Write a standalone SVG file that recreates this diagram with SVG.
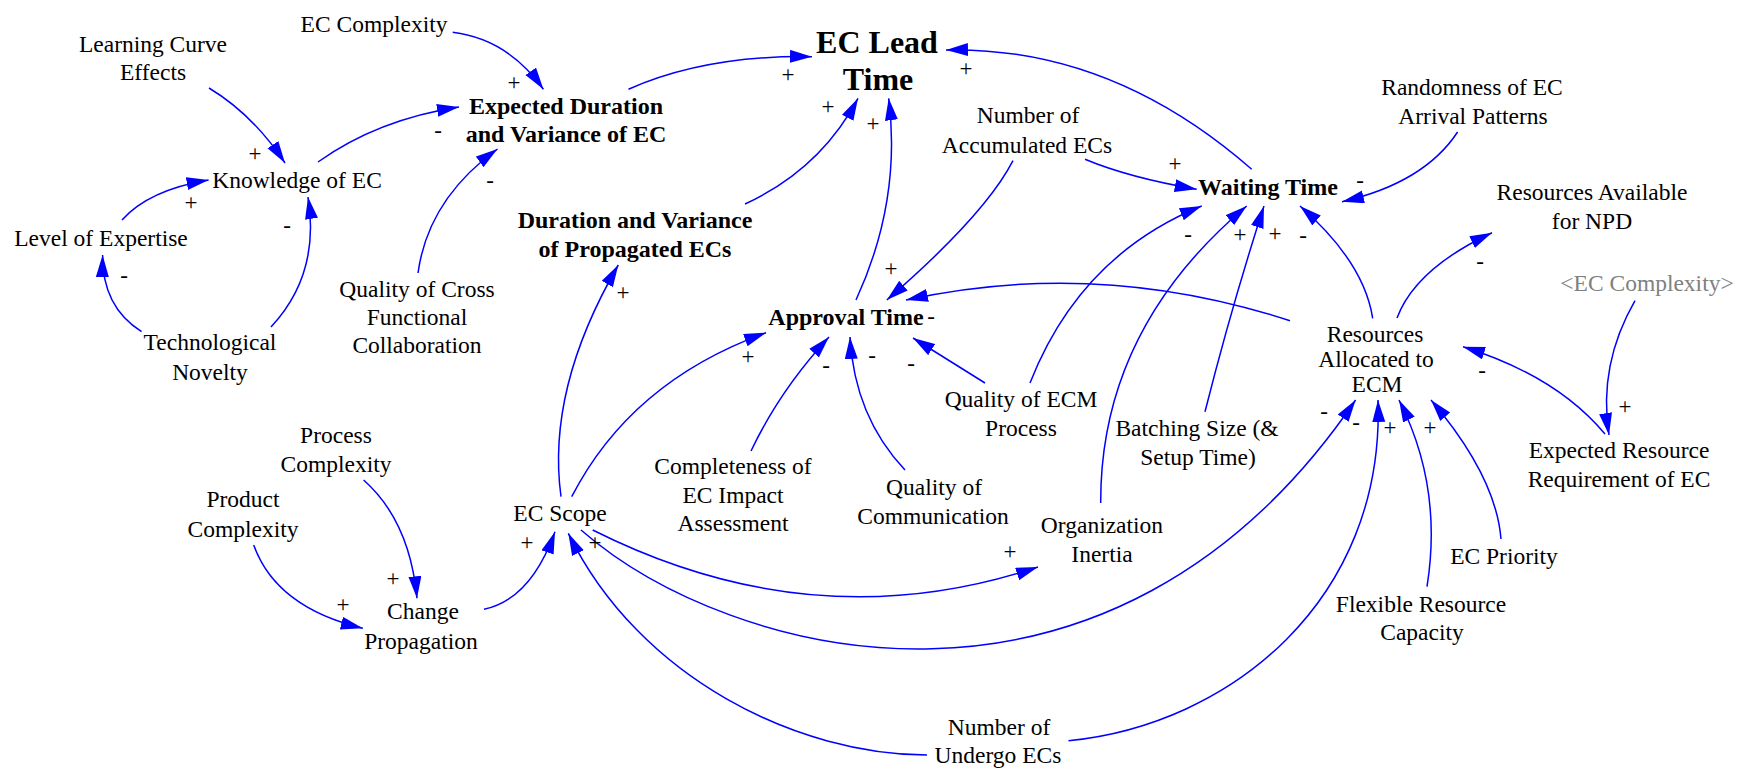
<svg xmlns="http://www.w3.org/2000/svg" width="1747" height="773" viewBox="0 0 1747 773">
  <defs>
    <style>
      text { font-family: "Liberation Serif", "Times New Roman", serif; fill: #000; text-anchor: middle; }
      .var { font-size: 23.5px; }
      .key { font-size: 24px; font-weight: bold; }
      .top { font-size: 32px; font-weight: bold; }
      .shadow { font-size: 23.5px; fill: #808080; }
      .sign { font-size: 23px; }
      .link { fill: none; stroke: #0000ff; stroke-width: 1.5; marker-end: url(#head); }
    </style>
    <marker id="head" markerUnits="userSpaceOnUse" markerWidth="24" markerHeight="14" refX="22" refY="6.5" orient="auto">
      <path d="M0,0 L22,6.5 L0,13 z" fill="#0000ff"/>
    </marker>
  </defs>

  <rect width="1747" height="773" fill="#ffffff"/>

  <!-- causal links -->
  <g id="connectors">
    <path class="link" d="M452.7,32.3 Q508,39.2 543.4,89.3"/>
    <path class="link" d="M209,88 Q253,114.5 285,163"/>
    <path class="link" d="M318,162 Q377.5,119.5 459,107"/>
    <path class="link" d="M122,220 Q148.7,190 208.6,180"/>
    <path class="link" d="M141.6,331.7 Q102,306.6 102.6,255"/>
    <path class="link" d="M271,327 Q320.5,274 308,197"/>
    <path class="link" d="M418,273 Q428.2,199 497.5,149"/>
    <path class="link" d="M628.5,89.3 Q705.7,55 812,56.7"/>
    <path class="link" d="M745,204 Q820.5,169 858,98.3"/>
    <path class="link" d="M856,300 Q901.6,201 888.7,98.3"/>
    <path class="link" d="M1251.7,169.3 Q1111,46.3 946,50"/>
    <path class="link" d="M1013,160.7 Q985,215 886.8,300"/>
    <path class="link" d="M1085,159.3 Q1129,177.7 1196.7,189.3"/>
    <path class="link" d="M1457.6,132 Q1424,183 1342,201.7"/>
    <path class="link" d="M1397,318 Q1415.5,268.6 1492,232.7"/>
    <path class="link" d="M1372.7,318.3 Q1364,262 1300,206"/>
    <path class="link" d="M1290,320.7 Q1098,258 906,300"/>
    <path class="link" d="M1635,300.7 Q1598,365 1609,435"/>
    <path class="link" d="M1605,434 Q1556,375.6 1463,346.7"/>
    <path class="link" d="M985,383 L913,338"/>
    <path class="link" d="M1030,383 Q1080,255.5 1201.7,206"/>
    <path class="link" d="M1100.7,503 Q1100,329.5 1246.7,206"/>
    <path class="link" d="M1205,411.7 Q1232,305 1264,206"/>
    <path class="link" d="M751,451 Q780,390 829,337"/>
    <path class="link" d="M905,470 Q854.5,416.5 850,337"/>
    <path class="link" d="M561,496.7 Q546.3,389.1 618.3,265"/>
    <path class="link" d="M571.7,496.7 Q631.1,381.3 766,332.7"/>
    <path class="link" d="M484,609.3 Q530.5,599.5 555,531.7"/>
    <path class="link" d="M363.6,480 Q409.7,520.8 417,598.3"/>
    <path class="link" d="M253.7,545 Q276,607.3 362.8,628.3"/>
    <path class="link" d="M592.7,530 Q814.6,641.5 1038,567"/>
    <path class="link" d="M581,530 C730,660 1110,760 1355.6,400"/>
    <path class="link" d="M927,755 C800,755 640,680 568.3,533.3"/>
    <path class="link" d="M1068.5,740.7 C1230,725 1385,600 1378,400"/>
    <path class="link" d="M1427,586.7 Q1443,486.7 1399,400"/>
    <path class="link" d="M1501,539 Q1496,476.5 1431,400"/>
  </g>

  <!-- link polarities -->
  <g id="polarities" class="sign">
    <text x="514" y="90">+</text>
    <text x="255" y="161">+</text>
    <text x="438" y="138">-</text>
    <text x="191" y="210">+</text>
    <text x="124" y="283">-</text>
    <text x="287" y="233">-</text>
    <text x="490" y="188">-</text>
    <text x="788" y="82">+</text>
    <text x="828" y="114">+</text>
    <text x="873" y="131">+</text>
    <text x="966" y="76">+</text>
    <text x="891" y="276">+</text>
    <text x="1175" y="171">+</text>
    <text x="1360" y="188">-</text>
    <text x="1188" y="242">-</text>
    <text x="1240" y="242">+</text>
    <text x="1275" y="241">+</text>
    <text x="1303" y="243">-</text>
    <text x="1480" y="269">-</text>
    <text x="1482" y="378">-</text>
    <text x="1625" y="414">+</text>
    <text x="931" y="324">-</text>
    <text x="748" y="364">+</text>
    <text x="826" y="373">-</text>
    <text x="872" y="363">-</text>
    <text x="911" y="371">-</text>
    <text x="623" y="300">+</text>
    <text x="527" y="550">+</text>
    <text x="595" y="550">+</text>
    <text x="393" y="586">+</text>
    <text x="343" y="612">+</text>
    <text x="1010" y="559">+</text>
    <text x="1324" y="419">-</text>
    <text x="1356" y="430">-</text>
    <text x="1390" y="435">+</text>
    <text x="1430" y="435">+</text>
  </g>

  <!-- variables -->
  <g id="ec-complexity" class="var"><text x="374" y="32">EC Complexity</text></g>
  <g id="learning-curve" class="var"><text><tspan x="153" y="52">Learning Curve</tspan><tspan x="153" y="80">Effects</tspan></text></g>
  <g id="knowledge" class="var"><text x="297" y="188">Knowledge of EC</text></g>
  <g id="level-expertise" class="var"><text x="101" y="246">Level of Expertise</text></g>
  <g id="tech-novelty" class="var"><text><tspan x="210" y="350">Technological</tspan><tspan x="210" y="380">Novelty</tspan></text></g>
  <g id="quality-cross" class="var"><text><tspan x="417" y="297">Quality of Cross</tspan><tspan x="417" y="325">Functional</tspan><tspan x="417" y="353">Collaboration</tspan></text></g>
  <g id="expected-duration" class="key"><text><tspan x="566" y="114">Expected Duration</tspan><tspan x="566" y="142">and Variance of EC</tspan></text></g>
  <g id="ec-lead-time" class="top"><text><tspan x="877" y="53">EC Lead</tspan><tspan x="878" y="90">Time</tspan></text></g>
  <g id="duration-propagated" class="key"><text><tspan x="635" y="228">Duration and Variance</tspan><tspan x="635" y="257">of Propagated ECs</tspan></text></g>
  <g id="number-accumulated" class="var"><text><tspan x="1028" y="123">Number of</tspan><tspan x="1027" y="153">Accumulated ECs</tspan></text></g>
  <g id="approval-time" class="key"><text x="846" y="325">Approval Time</text></g>
  <g id="waiting-time" class="key"><text x="1268" y="195">Waiting Time</text></g>
  <g id="randomness" class="var"><text><tspan x="1472" y="95">Randomness of EC</tspan><tspan x="1473" y="124">Arrival Patterns</tspan></text></g>
  <g id="resources-available" class="var"><text><tspan x="1592" y="200">Resources Available</tspan><tspan x="1592" y="229">for NPD</tspan></text></g>
  <g id="ec-complexity-shadow" class="shadow"><text class="shadow" x="1647" y="291">&lt;EC Complexity&gt;</text></g>
  <g id="resources-allocated" class="var"><text><tspan x="1375" y="342">Resources</tspan><tspan x="1376" y="367">Allocated to</tspan><tspan x="1377" y="392">ECM</tspan></text></g>
  <g id="expected-resource" class="var"><text><tspan x="1619" y="458">Expected Resource</tspan><tspan x="1619" y="487">Requirement of EC</tspan></text></g>
  <g id="quality-ecm" class="var"><text><tspan x="1021" y="407">Quality of ECM</tspan><tspan x="1021" y="436">Process</tspan></text></g>
  <g id="batching" class="var"><text><tspan x="1197" y="436">Batching Size (&amp;</tspan><tspan x="1198" y="465">Setup Time)</tspan></text></g>
  <g id="completeness" class="var"><text><tspan x="733" y="474">Completeness of</tspan><tspan x="733" y="503">EC Impact</tspan><tspan x="733" y="531">Assessment</tspan></text></g>
  <g id="quality-communication" class="var"><text><tspan x="934" y="495">Quality of</tspan><tspan x="933" y="524">Communication</tspan></text></g>
  <g id="organization-inertia" class="var"><text><tspan x="1102" y="533">Organization</tspan><tspan x="1102" y="562">Inertia</tspan></text></g>
  <g id="ec-scope" class="var"><text x="560" y="521">EC Scope</text></g>
  <g id="ec-priority" class="var"><text x="1504" y="564">EC Priority</text></g>
  <g id="flexible-capacity" class="var"><text><tspan x="1421" y="612">Flexible Resource</tspan><tspan x="1422" y="640">Capacity</tspan></text></g>
  <g id="process-complexity" class="var"><text><tspan x="336" y="443">Process</tspan><tspan x="336" y="472">Complexity</tspan></text></g>
  <g id="product-complexity" class="var"><text><tspan x="243" y="507">Product</tspan><tspan x="243" y="537">Complexity</tspan></text></g>
  <g id="change-propagation" class="var"><text><tspan x="423" y="619">Change</tspan><tspan x="421" y="649">Propagation</tspan></text></g>
  <g id="number-undergo" class="var"><text><tspan x="999" y="735">Number of</tspan><tspan x="998" y="763">Undergo ECs</tspan></text></g>
</svg>
